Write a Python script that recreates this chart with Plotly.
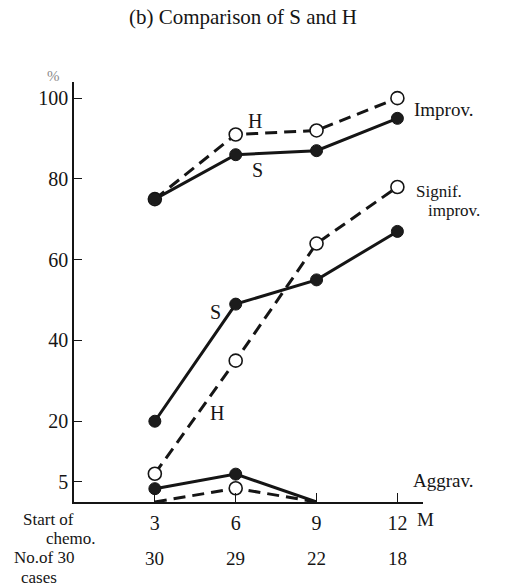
import plotly.graph_objects as go

# Months after surgery at which chemotherapy was started
months = [3, 6, 9, 12]
aggrav_months = [3, 6, 9]

# Response rates (%) for group S and group H
improv_h = [75, 91, 92, 100]
improv_s = [75, 86, 87, 95]
signif_h = [7, 35, 64, 78]
signif_s = [20, 49, 55, 67]
aggrav_s = [3.3, 6.9, 0]
aggrav_h = [0, 3.4, 0]

# Number of cases per start month
cases = [30, 29, 22, 18]

y_ticks = [5, 20, 40, 60, 80, 100]
x_tick_text = ["3", "6", "9", "12"]

W, H = 506, 587
L, R, T, B = 74, 83, 82, 85
PW, PH = W - L - R, H - T - B

FONT = "Liberation Serif"
INK = "#151515"


def px(x):
    return (x - L) / PW


def py(y):
    return (H - B - y) / PH


def line_only(x, y, dashed):
    return go.Scatter(
        x=x, y=y, mode="lines", cliponaxis=False, showlegend=False,
        line=dict(color=INK, width=3, dash="12px,7px" if dashed else "solid"),
        hoverinfo="skip",
    )


def open_marks(x, y):
    return go.Scatter(
        x=x, y=y, mode="markers", cliponaxis=False, showlegend=False,
        marker=dict(size=13, color="white", opacity=1,
                    line=dict(color=INK, width=1.6)),
    )


def filled_marks(x, y):
    return go.Scatter(
        x=x, y=y, mode="markers", cliponaxis=False, showlegend=False,
        marker=dict(size=12, color="#1c1c1c", opacity=1,
                    line=dict(color=INK, width=1)),
    )


fig = go.Figure()
# Improvement
fig.add_trace(line_only(months, improv_h, True))
fig.add_trace(open_marks(months, improv_h))
fig.add_trace(line_only(months, improv_s, False))
fig.add_trace(filled_marks(months, improv_s))
# Significant improvement
fig.add_trace(line_only(months, signif_h, True))
fig.add_trace(open_marks(months, signif_h))
fig.add_trace(line_only(months, signif_s, False))
fig.add_trace(filled_marks(months, signif_s))
# Aggravation (points lying on the baseline carry no marker)
fig.add_trace(line_only(aggrav_months, aggrav_h, True))
fig.add_trace(open_marks(
    [m for m, v in zip(aggrav_months, aggrav_h) if v > 0],
    [v for v in aggrav_h if v > 0]))
fig.add_trace(line_only(aggrav_months, aggrav_s, False))
fig.add_trace(filled_marks(
    [m for m, v in zip(aggrav_months, aggrav_s) if v > 0],
    [v for v in aggrav_s if v > 0]))

ann = []


def label(text, x, y, anchor="center", size=20, color=INK):
    ann.append(dict(
        text=text, x=px(x), y=py(y), xref="paper", yref="paper",
        xanchor=anchor, yanchor="middle", showarrow=False,
        font=dict(family=FONT, size=size, color=color),
    ))


label("H", 255, 121)
label("S", 257, 170)
label("Improv.", 412, 109, "left", 19)
label("Signif.", 414, 191, "left", 17)
label("improv.", 426, 210, "left", 17)
label("S", 215, 312)
label("H", 217, 413)
label("Aggrav.", 411, 480, "left", 19)
label("M", 425, 519, size=19)
label("Start of", 21, 519, "left", 17)
label("chemo.", 44, 538, "left", 17)
label("No.of 30", 12, 557, "left", 17)
label("cases", 19, 577, "left", 17)
label("%", 53, 76, size=15, color="#8a8a8a")

for m, n in zip(months, cases):
    ann.append(dict(
        text=str(n), x=m, y=py(558), xref="x", yref="paper",
        xanchor="center", yanchor="middle", showarrow=False,
        font=dict(family=FONT, size=19, color=INK),
    ))

fig.update_layout(
    width=W, height=H,
    margin=dict(l=L, r=R, t=T, b=B),
    paper_bgcolor="white", plot_bgcolor="white",
    font=dict(family=FONT, size=20, color=INK),
    title=dict(
        text="(b) Comparison of S and H",
        x=243 / W, y=1 - 17 / H, xref="container", yref="container",
        xanchor="center", yanchor="middle",
        font=dict(family=FONT, size=21, color=INK),
    ),
    annotations=ann,
    showlegend=False,
)

fig.update_xaxes(
    range=[0, 12.95], showgrid=False, zeroline=False,
    showline=True, linecolor=INK, linewidth=1.5,
    tickvals=months, ticktext=x_tick_text,
    ticks="inside", ticklen=9, tickwidth=1.2, tickcolor=INK,
    ticklabelstandoff=2,
    tickfont=dict(family=FONT, size=20, color=INK),
)
fig.update_yaxes(
    range=[0, 104], showgrid=False, zeroline=False,
    showline=True, linecolor=INK, linewidth=1.5,
    tickvals=y_ticks, ticks="inside", ticklen=8, tickwidth=1.2, tickcolor=INK,
    tickfont=dict(family=FONT, size=20, color=INK),
)

fig.write_html("out.html")
